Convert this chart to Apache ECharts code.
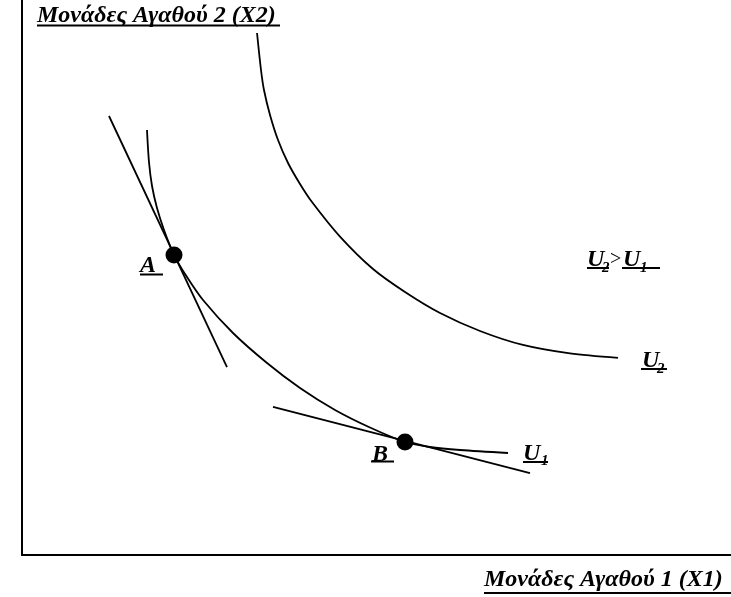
<!DOCTYPE html>
<html>
<head>
<meta charset="utf-8">
<script src="https://cdn.jsdelivr.net/npm/echarts@6/dist/echarts.min.js"></script>
<style>html,body{margin:0;padding:0;background:#fff;}#c{width:731px;height:597px;}</style>
</head>
<body>
<div id="c"></div>
<script>
// Indifference curve U1 (x = units of good 1, y = units of good 2)
const u1X = [17.63, 17.91, 18.34, 19.04, 20.03, 21.44, 23.27, 25.53, 29.76, 34.56, 39.21, 44.15, 49.08, 54.02, 57.55, 61.78, 68.55];
const u1Y = [76.58, 70.81, 66.49, 62.52, 58.56, 54.05, 50.09, 45.95, 40.00, 34.59, 30.09, 26.13, 22.97, 20.36, 19.46, 18.92, 18.38];
// Indifference curve U2
const u2X = [33.15, 33.71, 34.13, 34.98, 36.11, 37.52, 39.21, 40.90, 44.85, 49.51, 54.02, 58.96, 64.60, 70.66, 77.29, 84.06];
const u2Y = [94.05, 87.39, 83.78, 79.28, 74.77, 70.63, 66.85, 63.60, 57.37, 51.53, 47.39, 43.60, 40.36, 37.84, 36.31, 35.50];
// Tangent (budget) lines at A and B
const tanAX = [12.27, 28.91];
const tanAY = [79.10, 33.87];
const tanBX = [35.40, 71.65];
const tanBY = [26.67, 14.77];
// Tangency points
const pointNames = ['A', 'B'];
const pointX = [21.44, 54.02];
const pointY = [54.05, 20.36];
// Texts
const yAxisTitle = 'Μονάδες Αγαθού 2 (X2)';
const xAxisTitle = 'Μονάδες Αγαθού 1 (X1)';

const zip = (xs, ys) => xs.map((x, i) => [x, ys[i]]);
const FONT = 'italic bold 24px "Liberation Serif", "Times New Roman", serif';
const SUB = 'italic bold 15px "Liberation Serif", "Times New Roman", serif';

function txt(t, x, y, font) {
  return { type: 'text', silent: true, style: { text: t, x: x, y: y, font: font || FONT, fill: '#000', align: 'left', verticalAlign: 'middle' } };
}
function uline(x1, x2, y) {
  return { type: 'line', silent: true, shape: { x1: x1, y1: y, x2: x2, y2: y }, style: { stroke: '#000', lineWidth: 2 } };
}

const lineStyle = { color: '#000', width: 1.8 };

const chart = echarts.init(document.getElementById('c'), null, { renderer: 'canvas' });
chart.setOption({
  animation: false,
  backgroundColor: '#fff',
  grid: { left: 22, right: 0, top: 0, bottom: 42, containLabel: false },
  xAxis: {
    type: 'value', min: 0, max: 100,
    axisLine: { show: true, onZero: false, lineStyle: { color: '#000', width: 2 } },
    axisTick: { show: false }, axisLabel: { show: false }, splitLine: { show: false }
  },
  yAxis: {
    type: 'value', min: 0, max: 100,
    axisLine: { show: true, onZero: false, lineStyle: { color: '#000', width: 2 } },
    axisTick: { show: false }, axisLabel: { show: false }, splitLine: { show: false }
  },
  series: [
    { name: 'U1', type: 'line', data: zip(u1X, u1Y), smooth: 0.3, showSymbol: false, lineStyle: lineStyle },
    { name: 'U2', type: 'line', data: zip(u2X, u2Y), smooth: 0.3, showSymbol: false, lineStyle: lineStyle },
    { name: 'tanA', type: 'line', data: zip(tanAX, tanAY), showSymbol: false, lineStyle: lineStyle },
    { name: 'tanB', type: 'line', data: zip(tanBX, tanBY), showSymbol: false, lineStyle: lineStyle },
    { name: 'points', type: 'scatter', data: pointX.map((x, i) => ({ name: pointNames[i], value: [x, pointY[i]] })),
      symbol: 'circle', symbolSize: 17, itemStyle: { color: '#000', opacity: 1 }, z: 5 }
  ],
  graphic: [
    txt(yAxisTitle, 37, 16), uline(37, 280, 25.5),
    txt(xAxisTitle, 484, 580), uline(484, 731, 593),
    txt('A', 140, 266), uline(140, 163, 274.5),
    txt('B', 372, 454.5), uline(371, 394, 461.5),
    txt('U', 523, 454), txt('1', 541, 461, SUB), uline(523, 548, 462),
    txt('U', 642, 360.5), txt('2', 657, 369, SUB), uline(641, 667, 369),
    txt('U', 587, 260), txt('2', 602, 268, SUB),
    txt('>', 610, 260, '20px "Liberation Serif", serif'),
    txt('U', 623, 260), txt('1', 640, 268, SUB),
    uline(587, 609, 268), uline(622, 660, 268)
  ]
});
</script>
</body>
</html>
